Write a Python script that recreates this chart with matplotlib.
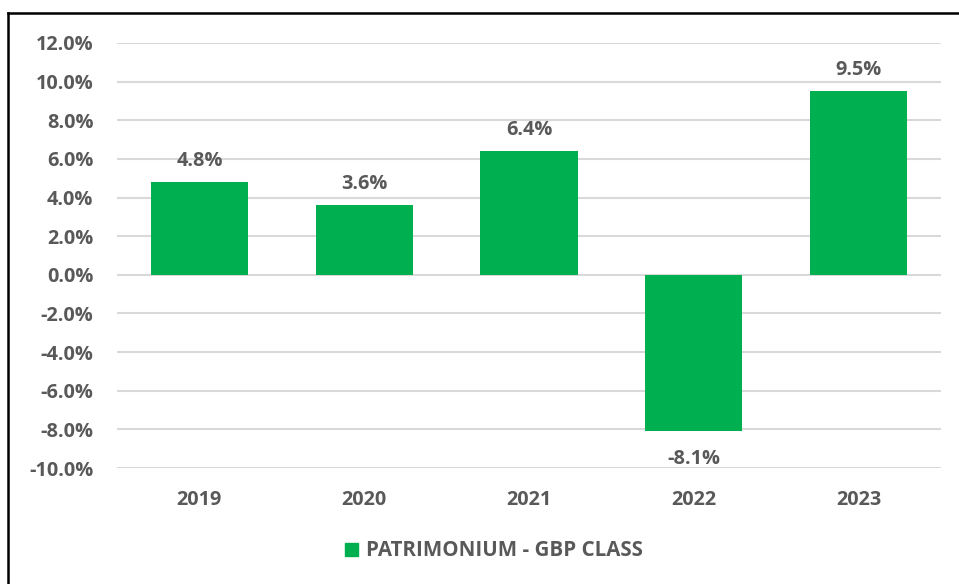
import matplotlib
matplotlib.use("Agg")
import matplotlib.pyplot as plt
from matplotlib.lines import Line2D
from matplotlib.patches import Rectangle

years = ["2019", "2020", "2021", "2022", "2023"]
returns = [4.8, 3.6, 6.4, -8.1, 9.5]
series_name = "PATRIMONIUM - GBP CLASS"
yticks = [-10, -8, -6, -4, -2, 0, 2, 4, 6, 8, 10, 12]

plt.rcParams['font.family'] = ['Open Sans', 'DejaVu Sans']
txt = "#595959"
green = "#00B050"
fs = 14.3

fig = plt.figure(figsize=(9.59, 5.84), dpi=100)
W, H = 959, 584
ax = fig.add_axes([117 / W, 1 - 468 / H, 824 / W, 425 / H])

x = list(range(len(years)))
bars = ax.bar(x, returns, width=0.59, color=green, zorder=3, label=series_name)
ax.set_xlim(-0.5, len(years) - 0.5)
ax.set_ylim(-10, 12)
ax.set_yticks(yticks)
ax.set_yticklabels([f"{v:.1f}%" for v in yticks])
ax.set_xticks(x)
ax.set_xticklabels(years)
ax.grid(axis='y', color='#d9d9d9', linewidth=1.5, zorder=0)
ax.tick_params(length=0, labelsize=fs, labelcolor=txt)
ax.tick_params(axis='y', pad=17)
ax.tick_params(axis='x', pad=15.5)
for lab in ax.get_xticklabels() + ax.get_yticklabels():
    lab.set_fontweight('bold')
for s in ax.spines.values():
    s.set_visible(False)

for xi, v in zip(x, returns):
    if v >= 0:
        ax.annotate(f"{v:.1f}%", (xi, v), xytext=(0, 8), textcoords='offset points',
                    ha='center', va='bottom', fontsize=fs, fontweight='bold', color=txt)
    else:
        ax.annotate(f"{v:.1f}%", (xi, v), xytext=(0, -13), textcoords='offset points',
                    ha='center', va='top', fontsize=fs, fontweight='bold', color=txt)

leg = fig.legend(handles=[Rectangle((0, 0), 1, 1, color=green)], labels=[series_name],
                 loc='center', bbox_to_anchor=(494 / W, 1 - 551 / H), frameon=False,
                 handlelength=0.6, handleheight=0.6, handletextpad=0.4,
                 prop={'size': 14.8, 'weight': 'bold'})
for t in leg.get_texts():
    t.set_color(txt)

fig.add_artist(Line2D([7.5 / W, 7.5 / W], [0, 1 - 13 / H], color='black', linewidth=1.8,
                      transform=fig.transFigure))
fig.add_artist(Line2D([7.5 / W, 1], [1 - 13 / H, 1 - 13 / H], color='black', linewidth=1.8,
                      transform=fig.transFigure))

fig.savefig("out.png", dpi=100)
